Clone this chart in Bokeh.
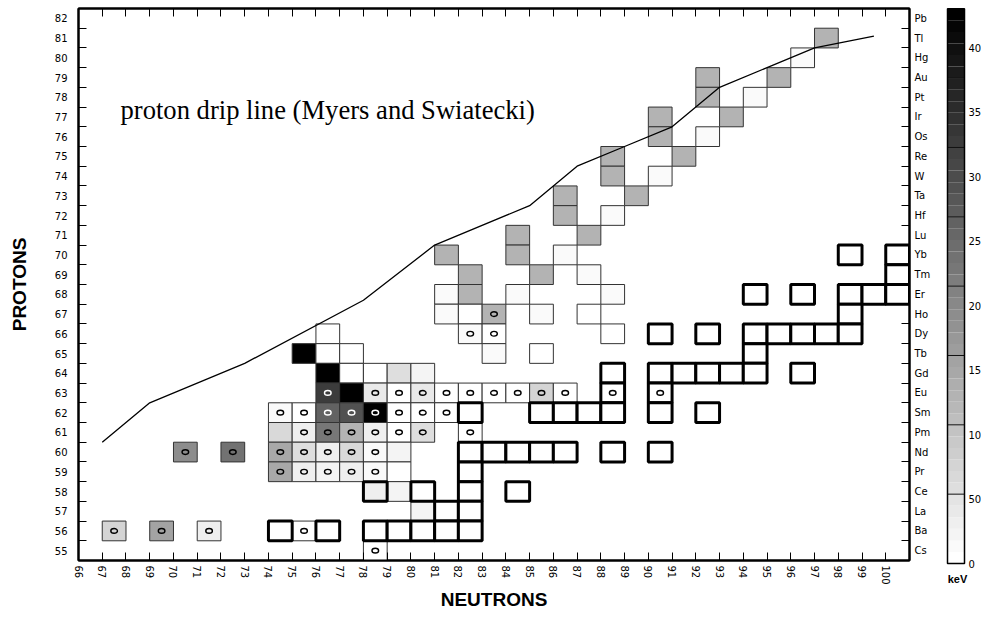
from bokeh.plotting import figure
from bokeh.models import Range1d, FixedTicker, LinearAxis, ColumnDataSource, Label
from bokeh.layouts import row
from bokeh.embed import file_html
from bokeh.resources import INLINE
from bokeh.core.properties import value

# ---------------------------------------------------------------- data
neutron_ticks = list(range(66, 101))
proton_ticks = list(range(55, 83))
element_symbols = ["Cs", "Ba", "La", "Ce", "Pr", "Nd", "Pm", "Sm", "Eu", "Gd", "Tb", "Dy",
                   "Ho", "Er", "Tm", "Yb", "Lu", "Hf", "Ta", "W", "Re", "Os", "Ir", "Pt",
                   "Au", "Hg", "Tl", "Pb"]

# measured nuclei: neutrons, protons, value (keV), open-circle flag
meas_n = [97, 96, 92, 95, 92, 94, 90, 93, 90, 92, 88, 91, 88, 90, 86, 89, 86, 88, 84, 87,
          81, 84, 86, 82, 85, 87, 81, 82, 84, 88, 81, 82, 83, 85, 87, 76, 82, 83, 88,
          75, 76, 77, 83, 85, 76, 77, 78, 79, 80,
          76, 77, 78, 79, 80, 81, 82, 83, 84, 85, 86,
          74, 75, 76, 77, 78, 79, 80, 81,
          74, 75, 76, 77, 78, 79, 80, 82,
          70, 72, 74, 75, 76, 77, 78, 79,
          74, 75, 76, 77, 78, 79,
          79, 80, 67, 69, 71, 75, 78]
meas_z = [81, 80, 79, 79, 78, 78, 77, 77, 76, 76, 75, 75, 74, 74, 73, 73, 72, 72, 71, 71,
          70, 70, 70, 69, 69, 69, 68, 68, 68, 68, 67, 67, 67, 67, 67, 66, 66, 66, 66,
          65, 65, 65, 65, 65, 64, 64, 64, 64, 64,
          63, 63, 63, 63, 63, 63, 63, 63, 63, 63, 63,
          62, 62, 62, 62, 62, 62, 62, 62,
          61, 61, 61, 61, 61, 61, 61, 61,
          60, 60, 60, 60, 60, 60, 60, 60,
          59, 59, 59, 59, 59, 59,
          58, 57, 56, 56, 56, 56, 55]
meas_kev = [133, 15, 133, 133, 133, 15, 133, 133, 133, 15, 133, 133, 133, 15, 133, 133, 133, 15, 133, 133,
            133, 133, 15, 133, 133, 15, 15, 133, 15, 15, 15, 2, 133, 15, 2, 2, 15, 2, 2,
            430, 2, 2, 15, 2, 425, 2, 2, 59, 25,
            329, 425, 39, 2, 39, 2, 2, 2, 2, 76, 2,
            12, 2, 262, 295, 425, 2, 2, 2,
            66, 34, 224, 133, 34, 2, 59, 2,
            195, 238, 147, 59, 29, 66, 17, 25,
            147, 29, 25, 29, 17, 2,
            25, 25, 72, 160, 29, 2, 2]
meas_o = [0, 0, 0, 0, 0, 0, 0, 0, 0, 0, 0, 0, 0, 0, 0, 0, 0, 0, 0, 0,
          0, 0, 0, 0, 0, 0, 0, 0, 0, 0, 0, 0, 1, 0, 0, 0, 1, 1, 0,
          0, 0, 0, 0, 0, 0, 0, 0, 0, 0,
          1, 0, 1, 1, 1, 1, 1, 1, 1, 1, 1,
          1, 1, 1, 1, 1, 1, 1, 1,
          0, 1, 1, 1, 1, 1, 1, 1,
          1, 1, 1, 1, 1, 1, 1, 0,
          1, 1, 1, 1, 1, 0,
          0, 0, 1, 1, 1, 1, 1]

# boxed nuclei (heavy outline)
box_n = [98, 100, 100, 94, 96, 98, 99, 100, 98, 90, 92, 94, 95, 96, 97, 98, 94,
         88, 90, 91, 92, 93, 94, 96, 88, 90, 82, 85, 86, 87, 88, 90, 92,
         82, 83, 84, 85, 86, 88, 90, 82, 78, 80, 82, 84, 81, 82,
         74, 76, 78, 79, 80, 81, 82]
box_z = [70, 70, 69, 68, 68, 68, 68, 68, 67, 66, 66, 66, 66, 66, 66, 66, 65,
         64, 64, 64, 64, 64, 64, 64, 63, 63, 62, 62, 62, 62, 62, 62, 62,
         60, 60, 60, 60, 60, 60, 60, 59, 58, 58, 58, 58, 57, 57,
         56, 56, 56, 56, 56, 56, 56]
box_kev = [0] * 41 + [29] + [0] * 12
box_o = [0] * 24 + [1, 1] + [0] * 28

# proton drip line (Myers and Swiatecki)
drip_n = [67, 69, 73, 78, 81, 85, 86, 87, 89, 91, 92, 93, 95, 97, 99.5]
drip_z = [60.5, 62.5, 64.5, 67.7, 70.5, 72.5, 73.5, 74.5, 75.5, 76.5, 77.5, 78.5, 79.5, 80.5, 81.1]

cbar_ticks = [0, 50, 100, 150, 200, 250, 300, 350, 400]
VMAX = 430
NSTEPS = 48


def gray(v):
    i = min(NSTEPS - 1, max(0, int(v / VMAX * NSTEPS)))
    g = int(round(255 * (1 - i / (NSTEPS - 1))))
    return "#%02x%02x%02x" % (g, g, g)


TICK_FONT = "DejaVu Sans"

# ---------------------------------------------------------------- main chart
p = figure(frame_width=831, frame_height=552,
           x_range=Range1d(66, 101), y_range=Range1d(54.5, 82.5),
           x_axis_location=None, y_axis_location=None,
           min_border_left=78, min_border_right=31, min_border_top=8, min_border_bottom=68,
           output_backend="svg", toolbar_location=None)
p.frame_align = False
p.grid.grid_line_color = None
p.outline_line_color = "black"
p.outline_line_width = 2
p.background_fill_color = "white"
p.border_fill_color = "white"

edge_ticks = [z + 0.5 for z in range(54, 83)]


def style_axis(ax):
    ax.axis_line_width = 2
    ax.axis_line_color = "black"
    ax.major_tick_line_color = "black"
    ax.minor_tick_line_color = "black"
    ax.major_tick_line_width = 1
    ax.minor_tick_line_width = 1
    ax.major_label_text_font = TICK_FONT
    ax.major_label_text_font_size = "10px"
    ax.major_label_text_color = "black"
    ax.axis_label_text_color = "black"


bottom = LinearAxis(ticker=FixedTicker(ticks=neutron_ticks))
style_axis(bottom)
bottom.major_tick_in = 8
bottom.major_tick_out = 0
bottom.major_label_orientation = "vertical"
bottom.major_label_standoff = 5
bottom.axis_label = "NEUTRONS"
bottom.axis_label_text_font = "Liberation Sans"
bottom.axis_label_text_font_style = "bold"
bottom.axis_label_text_font_size = "19px"
bottom.axis_label_standoff = 1
p.add_layout(bottom, "below")

# top edge: tick marks only
top = LinearAxis(ticker=FixedTicker(ticks=[], minor_ticks=neutron_ticks + [101]))
style_axis(top)
top.major_tick_in = 0
top.major_tick_out = 0
top.minor_tick_in = 8
top.minor_tick_out = 0
top.major_label_standoff = 0
p.add_layout(top, "above")

left = LinearAxis(ticker=FixedTicker(ticks=proton_ticks, minor_ticks=edge_ticks))
style_axis(left)
left.major_tick_in = 0
left.major_tick_out = 0
left.minor_tick_in = 8
left.minor_tick_out = 0
left.major_label_standoff = 11
left.axis_label = "PROTONS"
left.axis_label_text_font = "Liberation Sans"
left.axis_label_text_font_style = "bold"
left.axis_label_text_font_size = "19px"
left.axis_label_standoff = 22
p.add_layout(left, "left")

right = LinearAxis(ticker=FixedTicker(ticks=proton_ticks, minor_ticks=edge_ticks))
style_axis(right)
right.major_tick_in = 0
right.major_tick_out = 0
right.minor_tick_in = 8
right.minor_tick_out = 0
right.major_label_standoff = 5
right.major_label_overrides = {z: s for z, s in zip(proton_ticks, element_symbols)}
p.add_layout(right, "right")

# measured cells
meas = ColumnDataSource(dict(
    x=[n + 0.5 for n in meas_n], y=meas_z,
    fill=[gray(v) for v in meas_kev]))
p.rect(x="x", y="y", width=1, height=1, source=meas,
       fill_color="fill", line_color="#333333", line_width=1)

# boxed cells
box = ColumnDataSource(dict(
    x=[n + 0.5 for n in box_n], y=box_z,
    fill=[gray(v) for v in box_kev]))
p.rect(x="x", y="y", width=1, height=1, source=box,
       fill_color="fill", line_color="black", line_width=3)

# open circles
cx, cy, cc = [], [], []
for n, z, v, o in zip(meas_n + box_n, meas_z + box_z, meas_kev + box_kev, meas_o + box_o):
    if o:
        cx.append(n + 0.5)
        cy.append(z)
        cc.append("white" if v > 250 else "black")
p.ellipse(x=cx, y=cy, width=0.28, height=0.24, fill_color=None,
          line_color=cc, line_width=1.4)

# drip line
p.line(drip_n, drip_z, line_color="black", line_width=1.3)

p.add_layout(Label(x=67.77, y=77.35, text="proton drip line (Myers and Swiatecki)",
                   text_font="Liberation Serif", text_font_size="26.6px",
                   text_baseline="middle", text_color="black"))

# ---------------------------------------------------------------- colour scale
px_per_kev = 516 / 400
y0 = 563  # pixel row of 0 keV
cb = figure(width=41, height=628,
            x_range=Range1d(0, 41), y_range=Range1d(-(628 - y0) / px_per_kev, y0 / px_per_kev),
            x_axis_location=None, y_axis_location=None, min_border=0,
            output_backend="svg", toolbar_location=None)
cb.frame_align = False
cb.grid.grid_line_color = None
cb.outline_line_color = None

step = VMAX / NSTEPS
lo = [i * step for i in range(NSTEPS)]
hi = [(i + 1) * step for i in range(NSTEPS)]
cb.quad(left=7, right=24, bottom=lo, top=hi,
        fill_color=[gray((a + b) / 2) for a, b in zip(lo, hi)], line_color=None)
band_edges = [k * VMAX / 8 for k in range(1, 8)]
cb.segment(x0=7, x1=24, y0=band_edges, y1=band_edges, line_color="#111111", line_width=1)
cb.quad(left=7, right=24, bottom=0, top=VMAX, fill_color=None, line_color="black", line_width=1.5)
cb.text(x=28, y=cbar_ticks, text=[str(t) for t in cbar_ticks],
        text_font=value(TICK_FONT), text_font_size="10px", text_baseline="middle",
        text_color="black")
cb.text(x=[17], y=[-12], text=["keV"], text_font=value("Liberation Sans"),
        text_font_style="bold", text_font_size="11px", text_align="center",
        text_baseline="middle", text_color="black")

layout = row(p, cb)
open("out.html", "w").write(file_html(layout, INLINE))
